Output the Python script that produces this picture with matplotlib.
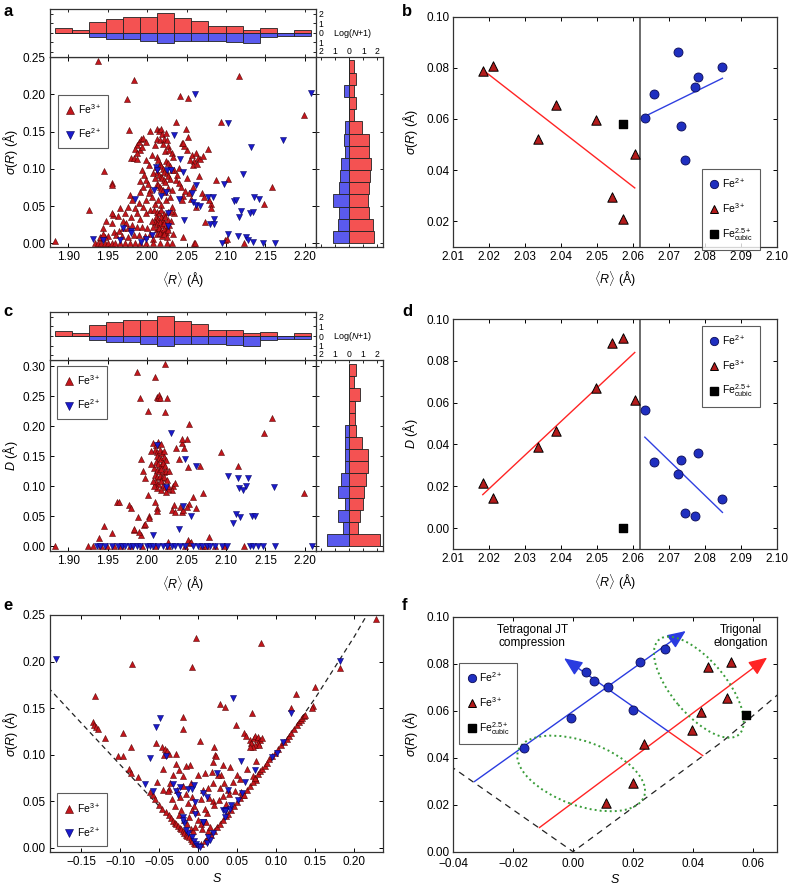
import numpy as np
import matplotlib
matplotlib.use('Agg')
import matplotlib.pyplot as plt
import matplotlib.transforms as mtransforms
from matplotlib.patches import Ellipse
from matplotlib.lines import Line2D

plt.rcParams['font.family'] = ['Liberation Sans', 'DejaVu Sans']
plt.rcParams['mathtext.fontset'] = 'custom'
plt.rcParams['mathtext.rm'] = 'Liberation Sans'
plt.rcParams['mathtext.it'] = 'Liberation Sans:italic'
plt.rcParams['mathtext.bf'] = 'Liberation Sans:bold'
plt.rcParams['axes.linewidth'] = 0.9
plt.rcParams['axes.edgecolor'] = '#333333'

# ---------------- data ----------------
# panel a : <R> vs sigma(R), all structures
a_fe3 = [
    (1.883, 0.003), (1.926, 0.044), (1.938, 0.245), (1.945, 0.097), (1.956, 0.081), (1.956, 0.078),
    (1.974, 0.193), (1.977, 0.152), (1.984, 0.219), (2.037, 0.163), (2.0415, 0.197), (2.052, 0.195),
    (2.049, 0.154), (2.052, 0.143), (2.094, 0.163), (2.116, 0.225), (2.199, 0.172), (2.077, 0.127),
    (2.102, 0.086), (2.158, 0.075), (2.070, 0.067), (2.081, 0.053), (2.081, 0.048), (2.148, 0.053),
    (2.073, 0.029), (2.033, 0.013), (2.099, 0.004), (2.123, 0.000), (2.045, 0.009), (2.059, 0.000),
    (2.101, 0.006), (2.061, 0.000),
    (2.054, 0.112), (2.057, 0.118), (2.060, 0.110), (2.062, 0.121), (2.064, 0.115), (2.067, 0.113),
    (2.071, 0.117), (2.058, 0.105), (2.063, 0.107), (2.050, 0.125), (2.047, 0.130), (2.044, 0.135),
    (2.046, 0.134), (2.034, 0.098), (2.038, 0.092), (2.036, 0.085), (2.041, 0.081), (2.043, 0.075),
    (2.046, 0.063), (2.044, 0.058), (2.034, 0.040), (2.030, 0.043), (2.062, 0.049), (2.056, 0.060),
    (2.058, 0.076), (2.040, 0.101), (2.050, 0.088), (2.048, 0.070), (2.053, 0.068), (2.066, 0.090),
    (2.072, 0.062), (2.078, 0.058), (2.087, 0.085),
    (1.987, 0.132), (1.990, 0.136), (1.992, 0.140), (1.995, 0.141), (1.998, 0.136), (2.0035, 0.151),
    (2.013, 0.153), (2.015, 0.151), (2.017, 0.154), (2.012, 0.140), (2.016, 0.139), (2.021, 0.140),
    (2.025, 0.139), (2.010, 0.132), (2.020, 0.133), (2.027, 0.131), (2.0225, 0.124), (2.028, 0.125),
    (2.031, 0.121), (2.033, 0.116), (2.019, 0.146), (2.024, 0.148),
    (1.979, 0.114), (1.983, 0.114), (1.9875, 0.113), (1.991, 0.125), (1.994, 0.129), (1.9845, 0.127),
    (1.9866, 0.121), (1.999, 0.112), (2.003, 0.105), (1.993, 0.098), (1.996, 0.092), (2.006, 0.118),
    (2.012, 0.116), (2.014, 0.112), (2.016, 0.107), (2.018, 0.104), (2.020, 0.100), (2.022, 0.096),
    (2.024, 0.110), (2.027, 0.108), (2.029, 0.104), (2.031, 0.098), (2.013, 0.096), (2.015, 0.092),
    (2.017, 0.089), (2.019, 0.087), (2.021, 0.085), (2.023, 0.082), (2.025, 0.094), (2.027, 0.090),
    (2.029, 0.086), (2.012, 0.080), (2.014, 0.078), (2.016, 0.076), (2.018, 0.073), (2.020, 0.071),
    (2.023, 0.069), (2.026, 0.074), (2.031, 0.071), (2.010, 0.088), (2.008, 0.094), (2.011, 0.102),
    (1.991, 0.083), (1.991, 0.069), (1.995, 0.076), (1.999, 0.085), (2.001, 0.080), (2.004, 0.071),
    (2.002, 0.067), (2.006, 0.062), (1.998, 0.058), (1.978, 0.065), (1.981, 0.058), (1.976, 0.049),
    (1.985, 0.047), (1.990, 0.054), (1.995, 0.049), (1.987, 0.040), (1.980, 0.035), (1.991, 0.033),
    (1.998, 0.040), (2.004, 0.044), (2.010, 0.053), (2.014, 0.058), (2.018, 0.051), (2.024, 0.058),
    (2.029, 0.062), (2.031, 0.049), (2.027, 0.042), (1.9655, 0.047), (1.963, 0.036), (1.957, 0.038),
    (1.956, 0.040), (1.955, 0.027), (1.944, 0.020), (1.948, 0.030), (1.970, 0.030), (1.972, 0.040),
    (2.009, 0.044), (2.012, 0.042), (2.015, 0.040), (2.018, 0.044), (2.021, 0.039), (2.011, 0.035),
    (2.014, 0.033), (2.017, 0.035), (2.020, 0.031), (2.023, 0.035), (2.026, 0.031), (2.010, 0.028),
    (2.013, 0.026), (2.016, 0.028), (2.019, 0.024), (2.022, 0.027), (2.025, 0.022), (2.012, 0.019),
    (2.015, 0.021), (2.018, 0.017), (2.021, 0.019), (2.024, 0.015), (2.027, 0.018), (2.013, 0.012),
    (2.016, 0.014), (2.019, 0.010), (2.022, 0.012), (2.025, 0.008), (2.028, 0.025), (2.030, 0.030),
    (2.008, 0.022), (2.006, 0.030),
    (1.951, 0.010), (1.958, 0.015), (1.965, 0.017), (1.970, 0.020), (1.976, 0.020), (1.973, 0.027),
    (1.981, 0.024), (1.987, 0.022), (1.993, 0.022), (2.000, 0.020), (1.997, 0.010), (1.990, 0.011),
    (1.983, 0.011), (1.976, 0.008), (1.968, 0.010), (1.961, 0.011), (1.947, 0.008), (1.942, 0.007),
    (1.940, 0.009), (1.944, 0.012), (2.004, 0.012), (2.007, 0.006),
    (1.934, 0.000), (1.938, 0.000), (1.942, 0.001), (1.9465, 0.000), (1.951, 0.000), (1.955, 0.000),
    (1.959, 0.001), (1.966, 0.000), (1.972, 0.000), (1.978, 0.000), (1.985, 0.000), (1.991, 0.001),
    (1.999, 0.000), (2.008, 0.000), (2.016, 0.000), (2.025, 0.000), (2.031, 0.000),
]
a_fe2 = [
    (1.932, 0.006), (1.944, 0.005), (1.9655, 0.004), (1.969, 0.020), (1.979, 0.017), (1.980, 0.014),
    (1.9845, 0.059), (1.992, 0.002), (1.999, 0.006), (2.0056, 0.011), (2.011, 0.103), (2.012, 0.098),
    (2.0246, 0.098), (2.030, 0.099), (2.045, 0.096), (2.009, 0.071), (2.018, 0.063), (2.024, 0.069),
    (2.0267, 0.040), (2.0267, 0.023), (2.034, 0.145), (2.0415, 0.113), (2.0466, 0.031),
    (2.0605, 0.200), (2.102, 0.161), (2.208, 0.2015), (2.1725, 0.139), (2.132, 0.129), (2.122, 0.093),
    (2.097, 0.080), (2.062, 0.078), (2.057, 0.068), (2.077, 0.062), (2.084, 0.062), (2.058, 0.056),
    (2.062, 0.052), (2.067, 0.050), (2.110, 0.057), (2.113, 0.058), (2.136, 0.062), (2.142, 0.060),
    (2.119, 0.0435), (2.117, 0.0355), (2.130, 0.040), (2.1345, 0.042), (2.085, 0.033), (2.085, 0.026),
    (2.080, 0.026), (2.103, 0.012), (2.0943, 0.000), (2.1155, 0.0094), (2.125, 0.0085), (2.128, 0.005),
    (2.134, 0.002), (2.147, 0.000), (2.162, 0.000), (2.041, 0.060),
]

# panel c : <R> vs D
c_fe3 = [
    (1.883, 0.0), (1.925, 0.0), (1.939, 0.014), (1.945, 0.034), (1.956, 0.022), (1.962, 0.074),
    (1.965, 0.074), (1.977, 0.069), (1.979, 0.063), (1.984, 0.027), (1.988, 0.049), (1.992, 0.019),
    (1.996, 0.036), (1.987, 0.290), (1.991, 0.246), (2.001, 0.225), (2.010, 0.282), (2.013, 0.249),
    (2.014, 0.246), (2.015, 0.251), (2.016, 0.247), (2.0246, 0.246), (2.0225, 0.224), (2.0225, 0.303),
    (2.053, 0.203), (2.050, 0.178), (2.044, 0.171), (2.036, 0.164), (2.040, 0.145), (2.067, 0.134),
    (2.071, 0.089), (2.058, 0.082), (2.062, 0.063), (2.053, 0.071), (2.050, 0.066), (2.0445, 0.057),
    (2.034, 0.069), (2.031, 0.060), (2.035, 0.057), (2.027, 0.007), (2.079, 0.016), (2.094, 0.157),
    (2.115, 0.133), (2.148, 0.189), (2.158, 0.213), (2.199, 0.088), (2.123, 0.0), (2.052, 0.011),
    (2.054, 0.005), (2.056, 0.007), (2.033, 0.100), (2.035, 0.105), (2.031, 0.093), (2.0415, 0.066),
    (2.045, 0.060), (2.047, 0.164), (2.052, 0.132), (2.0436, 0.179),
    (2.008, 0.172), (2.011, 0.168), (2.014, 0.173), (2.018, 0.170), (2.010, 0.160), (2.013, 0.157),
    (2.016, 0.160), (2.019, 0.155), (2.022, 0.158), (2.012, 0.150), (2.015, 0.147), (2.018, 0.145),
    (2.021, 0.148), (2.024, 0.143), (2.011, 0.140), (2.014, 0.137), (2.017, 0.135), (2.020, 0.138),
    (2.023, 0.133), (2.009, 0.130), (2.012, 0.127), (2.015, 0.125), (2.018, 0.128), (2.021, 0.123),
    (2.024, 0.126), (2.010, 0.118), (2.013, 0.115), (2.016, 0.117), (2.019, 0.113), (2.022, 0.116),
    (2.025, 0.110), (2.011, 0.107), (2.014, 0.104), (2.017, 0.108), (2.020, 0.102), (2.023, 0.099),
    (2.026, 0.095), (2.013, 0.097), (2.018, 0.094), (2.024, 0.091), (2.026, 0.101), (2.009, 0.100),
    (1.992, 0.146), (1.997, 0.113), (1.995, 0.125), (2.001, 0.085), (2.010, 0.074), (2.012, 0.063),
    (2.012, 0.058), (2.003, 0.050), (2.003, 0.047), (1.997, 0.037), (1.990, 0.023), (1.983, 0.028),
    (2.005, 0.137), (2.007, 0.108), (2.005, 0.158), (2.028, 0.125),
    (1.932, 0.0), (1.941, 0.0), (1.949, 0.0), (1.958, 0.0), (1.967, 0.0), (1.978, 0.0), (1.993, 0.0),
    (2.010, 0.0), (2.027, 0.001), (2.048, 0.0), (2.069, 0.0), (2.075, 0.0), (2.086, 0.0), (2.097, 0.001),
]
c_fe2 = [
    (1.936, 0.0), (1.940, 0.0), (1.9465, 0.0), (1.955, 0.0), (1.9634, 0.0), (1.9676, 0.0), (1.9718, 0.0),
    (1.978, 0.0), (1.9824, 0.0), (1.9866, 0.0), (1.9908, 0.0), (1.9993, 0.0), (2.0035, 0.0), (2.0077, 0.0),
    (2.0141, 0.0), (2.0204, 0.0), (2.0246, 0.0), (2.031, 0.0), (2.0352, 0.0), (2.0415, 0.0), (2.0479, 0.0),
    (2.0584, 0.0), (2.0648, 0.0), (2.069, 0.0), (2.0753, 0.0), (2.0796, 0.0), (2.0859, 0.0), (2.0943, 0.0),
    (2.1007, 0.0), (2.1302, 0.0), (2.1345, 0.0), (2.1408, 0.0), (2.1471, 0.0), (2.1619, 0.0), (2.2084, 0.0),
    (2.0297, 0.189), (2.0128, 0.168), (2.024, 0.099), (2.048, 0.146), (2.0614, 0.134), (2.0458, 0.067),
    (2.0555, 0.050), (2.0403, 0.029), (2.007, 0.019), (2.1028, 0.117), (2.1146, 0.113), (2.128, 0.113),
    (2.1167, 0.097), (2.121, 0.094), (2.1252, 0.100), (2.1607, 0.099), (2.1125, 0.053), (2.118, 0.049),
    (2.109, 0.039), (2.1324, 0.050), (2.1366, 0.051),
]

# log(N+1) histograms, shared <R> bins for a and c
R_edges = [1.883, 1.9046, 1.9263, 1.9479, 1.9696, 1.9912, 2.0129, 2.0345, 2.0562, 2.0778,
           2.0995, 2.1211, 2.1428, 2.1644, 2.1861, 2.2077]
R_hist_fe3 = [0.48, 0.30, 1.17, 1.41, 1.62, 1.69, 2.10, 1.52, 1.28, 0.66, 0.66, 0.30, 0.45, 0.0, 0.30]
R_hist_fe2 = [0.0, 0.0, 0.40, 0.66, 0.66, 0.81, 1.01, 0.81, 0.81, 0.81, 0.91, 1.08, 0.41, 0.32, 0.32]

sig_edges = [0, 0.0164, 0.0327, 0.0491, 0.0655, 0.0818, 0.0982, 0.1146, 0.1309, 0.1473, 0.1637,
             0.1800, 0.1964, 0.2128, 0.2291, 0.2455]
sig_hist_fe3 = [1.74, 1.69, 1.43, 1.31, 1.38, 1.50, 1.55, 1.38, 1.43, 0.90, 0.31, 0.45, 0.36, 0.50, 0.36]
sig_hist_fe2 = [1.17, 0.81, 0.76, 1.12, 0.76, 0.69, 0.57, 0.29, 0.40, 0.30, 0, 0, 0.40, 0, 0]

D_edges = [0, 0.0202, 0.0404, 0.0606, 0.0808, 0.101, 0.1212, 0.1414, 0.1616, 0.1818, 0.202,
           0.2222, 0.2424, 0.2626, 0.2828, 0.303]
D_hist_fe3 = [2.20, 0.67, 0.79, 1.02, 1.10, 1.19, 1.33, 1.38, 0.90, 0.50, 0.43, 0.43, 0.79, 0.36, 0.50]
D_hist_fe2 = [1.55, 0.45, 0.76, 0.29, 0.76, 0.60, 0.29, 0.29, 0.29, 0.29, 0, 0, 0, 0, 0]

# panels b, d, f : selected structures
fe2_R = [2.0633, 2.0659, 2.0725, 2.0735, 2.0744, 2.0773, 2.0781, 2.0849]
fe2_sig = [0.0602, 0.0698, 0.0862, 0.0571, 0.0441, 0.0724, 0.0765, 0.0805]
fe2_D = [0.0567, 0.0317, 0.0257, 0.0325, 0.0071, 0.0057, 0.0359, 0.0140]
fe3_R = [2.0182, 2.0210, 2.0337, 2.0385, 2.0498, 2.0543, 2.0573, 2.0605]
fe3_sig = [0.0788, 0.0809, 0.0520, 0.0653, 0.0594, 0.0294, 0.0209, 0.0463]
fe3_D = [0.0214, 0.0143, 0.0389, 0.0463, 0.0670, 0.0887, 0.0910, 0.0611]
cub_R = [2.0573]
cub_sig = [0.0581]
cub_D = [0.0]
R_split = 2.062
fit_b_fe3 = ([2.0182, 2.0605], [0.0792, 0.0330])
fit_b_fe2 = ([2.0633, 2.0849], [0.0610, 0.0759])
fit_d_fe3 = ([2.0182, 2.0605], [0.0160, 0.0840])
fit_d_fe2 = ([2.0633, 2.0849], [0.0435, 0.0075])

# panel f : S of the selected structures
fe2_S = [-0.0163, -0.0008, 0.0044, 0.0070, 0.0117, 0.0201, 0.0222, 0.0306]
fe2_S_sig = [0.0440, 0.0570, 0.0766, 0.0726, 0.0700, 0.0603, 0.0806, 0.0862]
fe3_S = [0.0111, 0.0201, 0.0238, 0.0398, 0.0426, 0.0450, 0.0514, 0.0527]
fe3_S_sig = [0.0206, 0.0291, 0.0460, 0.0518, 0.0596, 0.0787, 0.0652, 0.0809]
cub_S = [0.0577]
cub_S_sig = [0.0582]

# panel e : S vs sigma(R)
e_fe3 = [
    (-0.003, 0.225), (-0.0085, 0.1945), (-0.0854, 0.197), (-0.1324, 0.163), (-0.135, 0.135), (-0.133, 0.132),
    (-0.131, 0.130), (-0.128, 0.128), (-0.1196, 0.118), (-0.096, 0.123), (-0.1026, 0.098), (-0.096, 0.098),
    (-0.0867, 0.1085), (-0.089, 0.085), (-0.086, 0.080), (-0.077, 0.076), (-0.0534, 0.071), (-0.0543, 0.113),
    (-0.047, 0.108), (-0.043, 0.106), (-0.040, 0.104), (-0.044, 0.100), (-0.038, 0.101), (-0.0457, 0.085),
    (-0.0286, 0.101), (-0.0286, 0.090), (-0.019, 0.140), (-0.020, 0.128), (-0.0106, 0.089), (0.0022, 0.1146),
    (-0.001, 0.078), (0.0804, 0.2196), (0.0278, 0.154), (0.0342, 0.1515), (0.0684, 0.1444), (0.048, 0.132),
    (0.1253, 0.1648), (0.1496, 0.1723), (0.1475, 0.152), (0.146, 0.150), (0.1185, 0.150), (0.059, 0.123),
    (0.061, 0.120), (0.1817, 0.193), (0.2278, 0.2454),
    (0.066, 0.116), (0.068, 0.113), (0.071, 0.118), (0.073, 0.120), (0.075, 0.117), (0.077, 0.119),
    (0.079, 0.116), (0.076, 0.112), (0.073, 0.110), (0.070, 0.108), (0.078, 0.110), (0.081, 0.118),
    (0.066, 0.108),
    (0.020, 0.1085), (0.021, 0.100), (0.023, 0.098), (0.032, 0.089), (0.019, 0.092), (0.040, 0.087),
    (0.018, 0.081), (0.0295, 0.078), (0.025, 0.078), (0.019, 0.069), (0.044, 0.071), (0.049, 0.078),
    (0.053, 0.074), (0.0476, 0.061), (0.0375, 0.062), (0.039, 0.058), (0.0118, 0.064), (0.0135, 0.053),
    (0.019, 0.050), (0.020, 0.046), (0.011, 0.037), (0.0265, 0.051), (0.055, 0.060), (0.057, 0.057),
    (0.074, 0.0935), (0.072, 0.075), (0.074, 0.073), (0.070, 0.077), (0.008, 0.080), (0.006, 0.062),
    (0.004, 0.052), (0.028, 0.064), (0.033, 0.070), (0.036, 0.047), (0.031, 0.056), (0.063, 0.085),
    (-0.045, 0.062), (-0.038, 0.063), (-0.034, 0.052), (-0.030, 0.045), (-0.025, 0.035), (-0.022, 0.040),
    (-0.018, 0.030), (-0.015, 0.025), (-0.012, 0.033), (-0.010, 0.020), (-0.007, 0.018), (-0.004, 0.022),
    (0.000, 0.030), (0.003, 0.026), (0.005, 0.020), (-0.039, 0.061), (-0.036, 0.070), (-0.027, 0.062),
    (-0.024, 0.055), (-0.020, 0.066), (-0.016, 0.058), (-0.013, 0.048), (-0.008, 0.055), (-0.005, 0.045),
    (-0.010, 0.070), (-0.020, 0.077), (-0.025, 0.083), (-0.016, 0.088), (-0.032, 0.078), (-0.008, 0.040),
    (-0.002, 0.038), (0.008, 0.042), (0.010, 0.028), (0.012, 0.018), (0.015, 0.022),
    (-0.062, 0.060), (-0.058, 0.057), (-0.055, 0.052), (-0.050, 0.046), (-0.046, 0.042), (-0.042, 0.038),
    (-0.038, 0.035), (-0.035, 0.032), (-0.032, 0.029), (-0.030, 0.027), (-0.028, 0.025), (-0.026, 0.023),
    (-0.024, 0.021), (-0.022, 0.020), (-0.020, 0.018), (-0.018, 0.016), (-0.016, 0.014), (-0.014, 0.013),
    (-0.012, 0.011), (-0.010, 0.009), (-0.008, 0.007), (-0.006, 0.005), (-0.004, 0.004),
    (0.004, 0.004), (0.008, 0.007), (0.012, 0.011), (0.016, 0.014), (0.020, 0.018), (0.024, 0.022),
    (0.028, 0.026), (0.032, 0.030), (0.035, 0.034), (0.038, 0.036), (0.042, 0.040), (0.046, 0.045),
    (0.050, 0.049), (0.054, 0.053), (0.058, 0.057), (0.062, 0.062), (0.066, 0.066), (0.070, 0.071),
    (0.073, 0.075), (0.076, 0.079), (0.079, 0.082), (0.082, 0.085), (0.085, 0.088), (0.088, 0.091),
    (0.091, 0.095), (0.095, 0.098), (0.098, 0.102), (0.102, 0.106), (0.106, 0.110), (0.110, 0.114),
    (0.113, 0.117), (0.116, 0.120), (0.119, 0.123), (0.122, 0.127), (0.126, 0.132), (0.129, 0.135),
    (0.131, 0.137), (0.133, 0.139), (0.135, 0.141), (0.137, 0.143),
]
e_fe2 = [
    (-0.1824, 0.2024), (-0.049, 0.139), (-0.0542, 0.130), (-0.062, 0.096), (-0.0683, 0.068), (-0.0577, 0.061),
    (-0.041, 0.0985), (-0.032, 0.068), (-0.0288, 0.061), (-0.026, 0.057), (-0.024, 0.065), (-0.0128, 0.0627),
    (-0.0085, 0.063), (-0.0055, 0.067), (0.0056, 0.059), (-0.004, 0.049), (-0.019, 0.033), (-0.018, 0.027),
    (-0.020, 0.030), (-0.0043, 0.036), (0.0056, 0.028), (-0.0085, 0.0118), (-0.0128, 0.0155), (-0.006, 0.007),
    (-0.003, 0.004), (0.0, 0.002), (0.002, 0.001), (0.011, 0.0047), (0.015, 0.008), (0.031, 0.040),
    (0.036, 0.041), (0.040, 0.042), (0.042, 0.046), (0.0505, 0.051), (0.0235, 0.080), (0.0385, 0.062),
    (0.044, 0.161), (0.0543, 0.0935), (0.011, 0.0545), (0.060, 0.071), (0.0556, 0.0584), (0.0727, 0.0835),
    (0.0336, 0.039), (0.0337, 0.0325), (0.0064, 0.028), (0.094, 0.0978), (0.1005, 0.102), (0.109, 0.114),
    (0.1185, 0.145), (0.1817, 0.2006), (0.019, 0.016), (0.013, 0.012), (-0.016, 0.019),
]
# limiting curve sigma(S), dashed in e and f
bound_S = [-0.20, -0.10, 0.0, 0.05, 0.10, 0.15, 0.20, 0.225]
bound_sig = [0.179, 0.089, 0.0, 0.047, 0.101, 0.161, 0.227, 0.263]

# ---------------- figure ----------------
W, H = 788, 890
fig = plt.figure(figsize=(W / 100, H / 100), dpi=100)

def box(l, t, r, b):
    return [l / W, 1 - b / H, (r - l) / W, (b - t) / H]

RED_BAR, BLUE_BAR = '#f45252', '#5a5aee'
RED_M, BLUE_M = '#c4161c', '#1a1acc'
TICK = dict(direction='in', top=True, right=True, length=3, width=0.7, labelsize=8.5, pad=3)
ANG = r'$\langle R\rangle$ (Å)'
SIGL = r'$\sigma(R)$ (Å)'
MS = 19

def small_scatter(ax, fe3, fe2):
    x3, y3 = zip(*fe3)
    x2, y2 = zip(*fe2)
    ax.scatter(x3, y3, marker='^', s=MS, c=RED_M, edgecolors='#4a0000', linewidths=0.35, zorder=3)
    ax.scatter(x2, y2, marker='v', s=MS, c=BLUE_M, edgecolors='#00005a', linewidths=0.35, zorder=3)

def legend_box(ax, handles, labels, **kw):
    leg = ax.legend(handles, labels, fontsize=7.5, frameon=True, fancybox=False, edgecolor='#333333',
                    handletextpad=0.2, borderpad=0.7, handlelength=1.0, borderaxespad=0, **kw)
    leg.get_frame().set_linewidth(0.8)
    return leg

def top_hist(ax, edges, h3, h2, xlim, ylim, xt):
    e = np.array(edges)
    w = np.diff(e)
    ax.bar(e[:-1], h3, width=w, align='edge', color=RED_BAR, edgecolor='#222222', linewidth=0.6)
    ax.bar(e[:-1], -np.array(h2), width=w, align='edge', color=BLUE_BAR, edgecolor='#222222', linewidth=0.6)
    ax.set_xlim(xlim)
    ax.set_ylim(ylim)
    ax.set_xticks(xt)
    ax.yaxis.tick_right()
    ax.set_yticks([-2, -1, 0, 1, 2])
    # the lowest "2" is shared with the tick labels of the side histogram
    ax.set_yticklabels(['', '1', '0', '1', '2'])
    ax.tick_params(direction='in', top=True, bottom=True, left=True, right=True, labelbottom=False,
                   labelsize=6.2, length=2.5, width=0.6, pad=2)

def right_hist(ax, edges, w3, w2, xlim, ylim, yt):
    e = np.array(edges)
    h = np.diff(e)
    ax.barh(e[:-1], w3, height=h, align='edge', color=RED_BAR, edgecolor='#222222', linewidth=0.6)
    ax.barh(e[:-1], -np.array(w2), height=h, align='edge', color=BLUE_BAR, edgecolor='#222222', linewidth=0.6)
    ax.set_xlim(xlim)
    ax.set_ylim(ylim)
    ax.set_yticks(yt)
    ax.xaxis.tick_top()
    ax.set_xticks([-2, -1, 0, 1, 2])
    ax.set_xticklabels(['2', '1', '0', '1', '2'])
    ax.tick_params(direction='in', top=True, bottom=True, left=True, right=True, labelleft=False,
                   labelsize=6.2, length=2.5, width=0.6, pad=0.5)

up = Line2D([], [], marker='^', ls='none', markersize=5.5, markerfacecolor=RED_M, markeredgecolor='#4a0000', markeredgewidth=0.4)
dn = Line2D([], [], marker='v', ls='none', markersize=5.5, markerfacecolor=BLUE_M, markeredgecolor='#00005a', markeredgewidth=0.4)

# ---- a ----
Rlim = (1.877, 2.214)
Rticks = [1.90, 1.95, 2.00, 2.05, 2.10, 2.15, 2.20]
ax = fig.add_axes(box(50, 57, 316, 247))
small_scatter(ax, a_fe3, a_fe2)
ax.set_xlim(Rlim)
ax.set_ylim(-0.005, 0.25)
ax.set_xticks(Rticks)
ax.set_xticklabels(['%.2f' % v for v in Rticks])
ax.set_yticks([0, 0.05, 0.10, 0.15, 0.20, 0.25])
ax.set_yticklabels(['0.00', '0.05', '0.10', '0.15', '0.20', '0.25'])
ax.tick_params(**TICK)
ax.set_xlabel(ANG, fontsize=9, labelpad=5)
ax.set_ylabel(SIGL, fontsize=9, labelpad=2)
legend_box(ax, [up, dn], ['Fe$^{3+}$', 'Fe$^{2+}$'], loc='upper left', bbox_to_anchor=(0.03, 0.80), labelspacing=1.0)

axt = fig.add_axes(box(50, 9.3, 316, 57))
top_hist(axt, R_edges, R_hist_fe3, R_hist_fe2, Rlim, (-2.52, 2.45), Rticks)
axr = fig.add_axes(box(316, 57, 383, 247))
right_hist(axr, sig_edges, sig_hist_fe3, sig_hist_fe2, (-2.36, 2.4), (-0.005, 0.25), [0, 0.05, 0.10, 0.15, 0.20, 0.25])
fig.text(353 / W, 1 - 33 / H, 'Log($N$+1)', fontsize=6.5, ha='center', va='center')

# ---- c ----
ax = fig.add_axes(box(50, 360, 316, 551))
small_scatter(ax, c_fe3, c_fe2)
ax.set_xlim(Rlim)
ax.set_ylim(-0.008, 0.31)
ax.set_xticks(Rticks)
ax.set_xticklabels(['%.2f' % v for v in Rticks])
Dt = [0, 0.05, 0.10, 0.15, 0.20, 0.25, 0.30]
ax.set_yticks(Dt)
ax.set_yticklabels(['%.2f' % v for v in Dt])
ax.tick_params(**TICK)
ax.set_xlabel(ANG, fontsize=9, labelpad=5)
ax.set_ylabel(r'$D$ (Å)', fontsize=9, labelpad=2)
legend_box(ax, [up, dn], ['Fe$^{3+}$', 'Fe$^{2+}$'], loc='upper left', bbox_to_anchor=(0.026, 0.969), labelspacing=1.0)

axt = fig.add_axes(box(50, 311.7, 316, 360))
top_hist(axt, R_edges, R_hist_fe3, R_hist_fe2, Rlim, (-2.48, 2.52), Rticks)
axr = fig.add_axes(box(316, 360, 383.3, 551))
right_hist(axr, D_edges, D_hist_fe3, D_hist_fe2, (-2.36, 2.45), (-0.008, 0.31), Dt)
fig.text(353 / W, 1 - 336 / H, 'Log($N$+1)', fontsize=6.5, ha='center', va='center')

# ---- b, d ----
circ = Line2D([], [], marker='o', ls='none', markersize=6, markerfacecolor='#1f2fc0', markeredgecolor='#0a0a55', markeredgewidth=0.6)
tri = Line2D([], [], marker='^', ls='none', markersize=6, markerfacecolor='#b31b1b', markeredgecolor='black', markeredgewidth=0.7)
sq = Line2D([], [], marker='s', ls='none', markersize=5.5, markerfacecolor='black', markeredgecolor='black')
lab3 = ['Fe$^{2+}$', 'Fe$^{3+}$', r'Fe$^{2.5+}_{\rm cubic}$']

def sel_scatter(ax, x2, y2, x3, y3, xc, yc):
    ax.scatter(x2, y2, marker='o', s=42, c='#1f2fc0', edgecolors='#0a0a55', linewidths=0.6, zorder=4)
    ax.scatter(x3, y3, marker='^', s=46, c='#b31b1b', edgecolors='black', linewidths=0.7, zorder=4)
    ax.scatter(xc, yc, marker='s', s=36, c='black', zorder=4)

bt = [2.01, 2.02, 2.03, 2.04, 2.05, 2.06, 2.07, 2.08, 2.09, 2.10]
for top, bot, yv, fits, ylim, yt, lanchor, ylab in [
        (16.7, 246.7, (fe3_sig, cub_sig, fe2_sig), (fit_b_fe3, fit_b_fe2), (0.01, 0.10),
         [0.02, 0.04, 0.06, 0.08, 0.10], (0.769, 0.338), SIGL),
        (319, 549, (fe3_D, cub_D, fe2_D), (fit_d_fe3, fit_d_fe2), (-0.01, 0.10),
         [0.0, 0.02, 0.04, 0.06, 0.08, 0.10], (0.769, 0.97), r'$D$ (Å)')]:
    ax = fig.add_axes(box(453.3, top, 776.7, bot))
    ax.axvline(R_split, color='#444444', lw=1.1, zorder=2)
    ax.plot(*fits[0], color='#ff2424', lw=1.0, zorder=3)
    ax.plot(*fits[1], color='#3040e0', lw=1.0, zorder=3)
    sel_scatter(ax, fe2_R, yv[2], fe3_R, yv[0], cub_R, yv[1])
    ax.set_xlim(2.01, 2.10)
    ax.set_ylim(ylim)
    ax.set_xticks(bt)
    ax.set_xticklabels(['%.2f' % v for v in bt])
    ax.set_yticks(yt)
    ax.set_yticklabels(['%.2f' % v for v in yt])
    ax.tick_params(**TICK)
    ax.set_xlabel(ANG, fontsize=9, labelpad=5)
    ax.set_ylabel(ylab, fontsize=9, labelpad=4)
    legend_box(ax, [circ, tri, sq], lab3, loc='upper left', bbox_to_anchor=lanchor, labelspacing=1.05)

# ---- e ----
ax = fig.add_axes(box(50, 615, 383.3, 852))
ax.plot(bound_S, bound_sig, color='#222222', lw=0.9, ls=(0, (4, 3)), zorder=2)
small_scatter(ax, e_fe3, e_fe2)
ax.set_xlim(-0.19, 0.237)
ax.set_ylim(-0.0046, 0.25)
et = [-0.15, -0.10, -0.05, 0.0, 0.05, 0.10, 0.15, 0.20]
ax.set_xticks(et)
ax.set_xticklabels([('%.2f' % v).replace('-', '\u2212') for v in et])
ax.set_yticks([0, 0.05, 0.10, 0.15, 0.20, 0.25])
ax.set_yticklabels(['0.00', '0.05', '0.10', '0.15', '0.20', '0.25'])
ax.tick_params(**TICK)
ax.set_xlabel(r'$S$', fontsize=9, labelpad=3)
ax.set_ylabel(SIGL, fontsize=9, labelpad=2)
legend_box(ax, [up, dn], ['Fe$^{3+}$', 'Fe$^{2+}$'], loc='lower left', bbox_to_anchor=(0.021, 0.025), labelspacing=1.0)

# ---- f ----
ax = fig.add_axes(box(453.3, 616.7, 776.7, 851.7))
ax.plot(bound_S, bound_sig, color='#222222', lw=0.9, ls=(0, (5, 4)), zorder=2)
arw = dict(arrowstyle='-|>,head_length=0.7,head_width=0.3', lw=1.0, shrinkA=0, shrinkB=0, mutation_scale=16)
ax.annotate('', xy=(0.0376, 0.0939), xytext=(-0.033, 0.0298), arrowprops=dict(color='#2a3be0', **arw))
ax.annotate('', xy=(0.0648, 0.0826), xytext=(-0.0113, 0.0102), arrowprops=dict(color='#ff2424', **arw))
ax.plot([0.0433, 0.0318], [0.0409, 0.0512], color='#ff2424', lw=1.0)
ax.annotate('', xy=(-0.003, 0.0823), xytext=(0.0318, 0.0512), arrowprops=dict(color='#2a3be0', **arw))
ax.set_xlim(-0.04, 0.068)
ax.set_ylim(0, 0.10)
for cx, cy, a, b, ang in [(0.0027, 0.0333, 67, 32, -20), (0.042, 0.070, 62, 27, -50)]:
    el = Ellipse((0, 0), 2 * a, 2 * b, angle=ang, fill=False, edgecolor='#3a9d3a', lw=1.4, ls=(0, (1, 1.6)),
                 transform=mtransforms.ScaledTranslation(cx, cy, ax.transData), zorder=3)
    ax.add_artist(el)
sel_scatter(ax, fe2_S, fe2_S_sig, fe3_S, fe3_S_sig, cub_S, cub_S_sig)
ax.text(-0.0136, 0.0915, 'Tetragonal JT\ncompression', fontsize=8.5, ha='center', va='center', linespacing=1.15)
ax.text(0.0559, 0.0915, 'Trigonal\nelongation', fontsize=8.5, ha='center', va='center', linespacing=1.15)
ft = [-0.04, -0.02, 0.0, 0.02, 0.04, 0.06]
ax.set_xticks(ft)
ax.set_xticklabels([('%.2f' % v).replace('-', '\u2212') for v in ft])
fy = [0, 0.02, 0.04, 0.06, 0.08, 0.10]
ax.set_yticks(fy)
ax.set_yticklabels(['%.2f' % v for v in fy])
ax.tick_params(**TICK)
ax.tick_params(axis='x', pad=4.5)
ax.set_xlabel(r'$S$', fontsize=9, labelpad=2)
ax.set_ylabel(SIGL, fontsize=9, labelpad=4)
legend_box(ax, [circ, tri, sq], lab3, loc='upper left', bbox_to_anchor=(0.018, 0.803), labelspacing=1.05)

# panel letters
for t, x, y in [('a', 3, 12), ('b', 402, 12), ('c', 3, 312), ('d', 402, 312), ('e', 3, 606), ('f', 402, 606)]:
    fig.text(x / W, 1 - y / H, t, fontsize=12, fontweight='bold', ha='left', va='center')

fig.savefig('out.png', dpi=100)
